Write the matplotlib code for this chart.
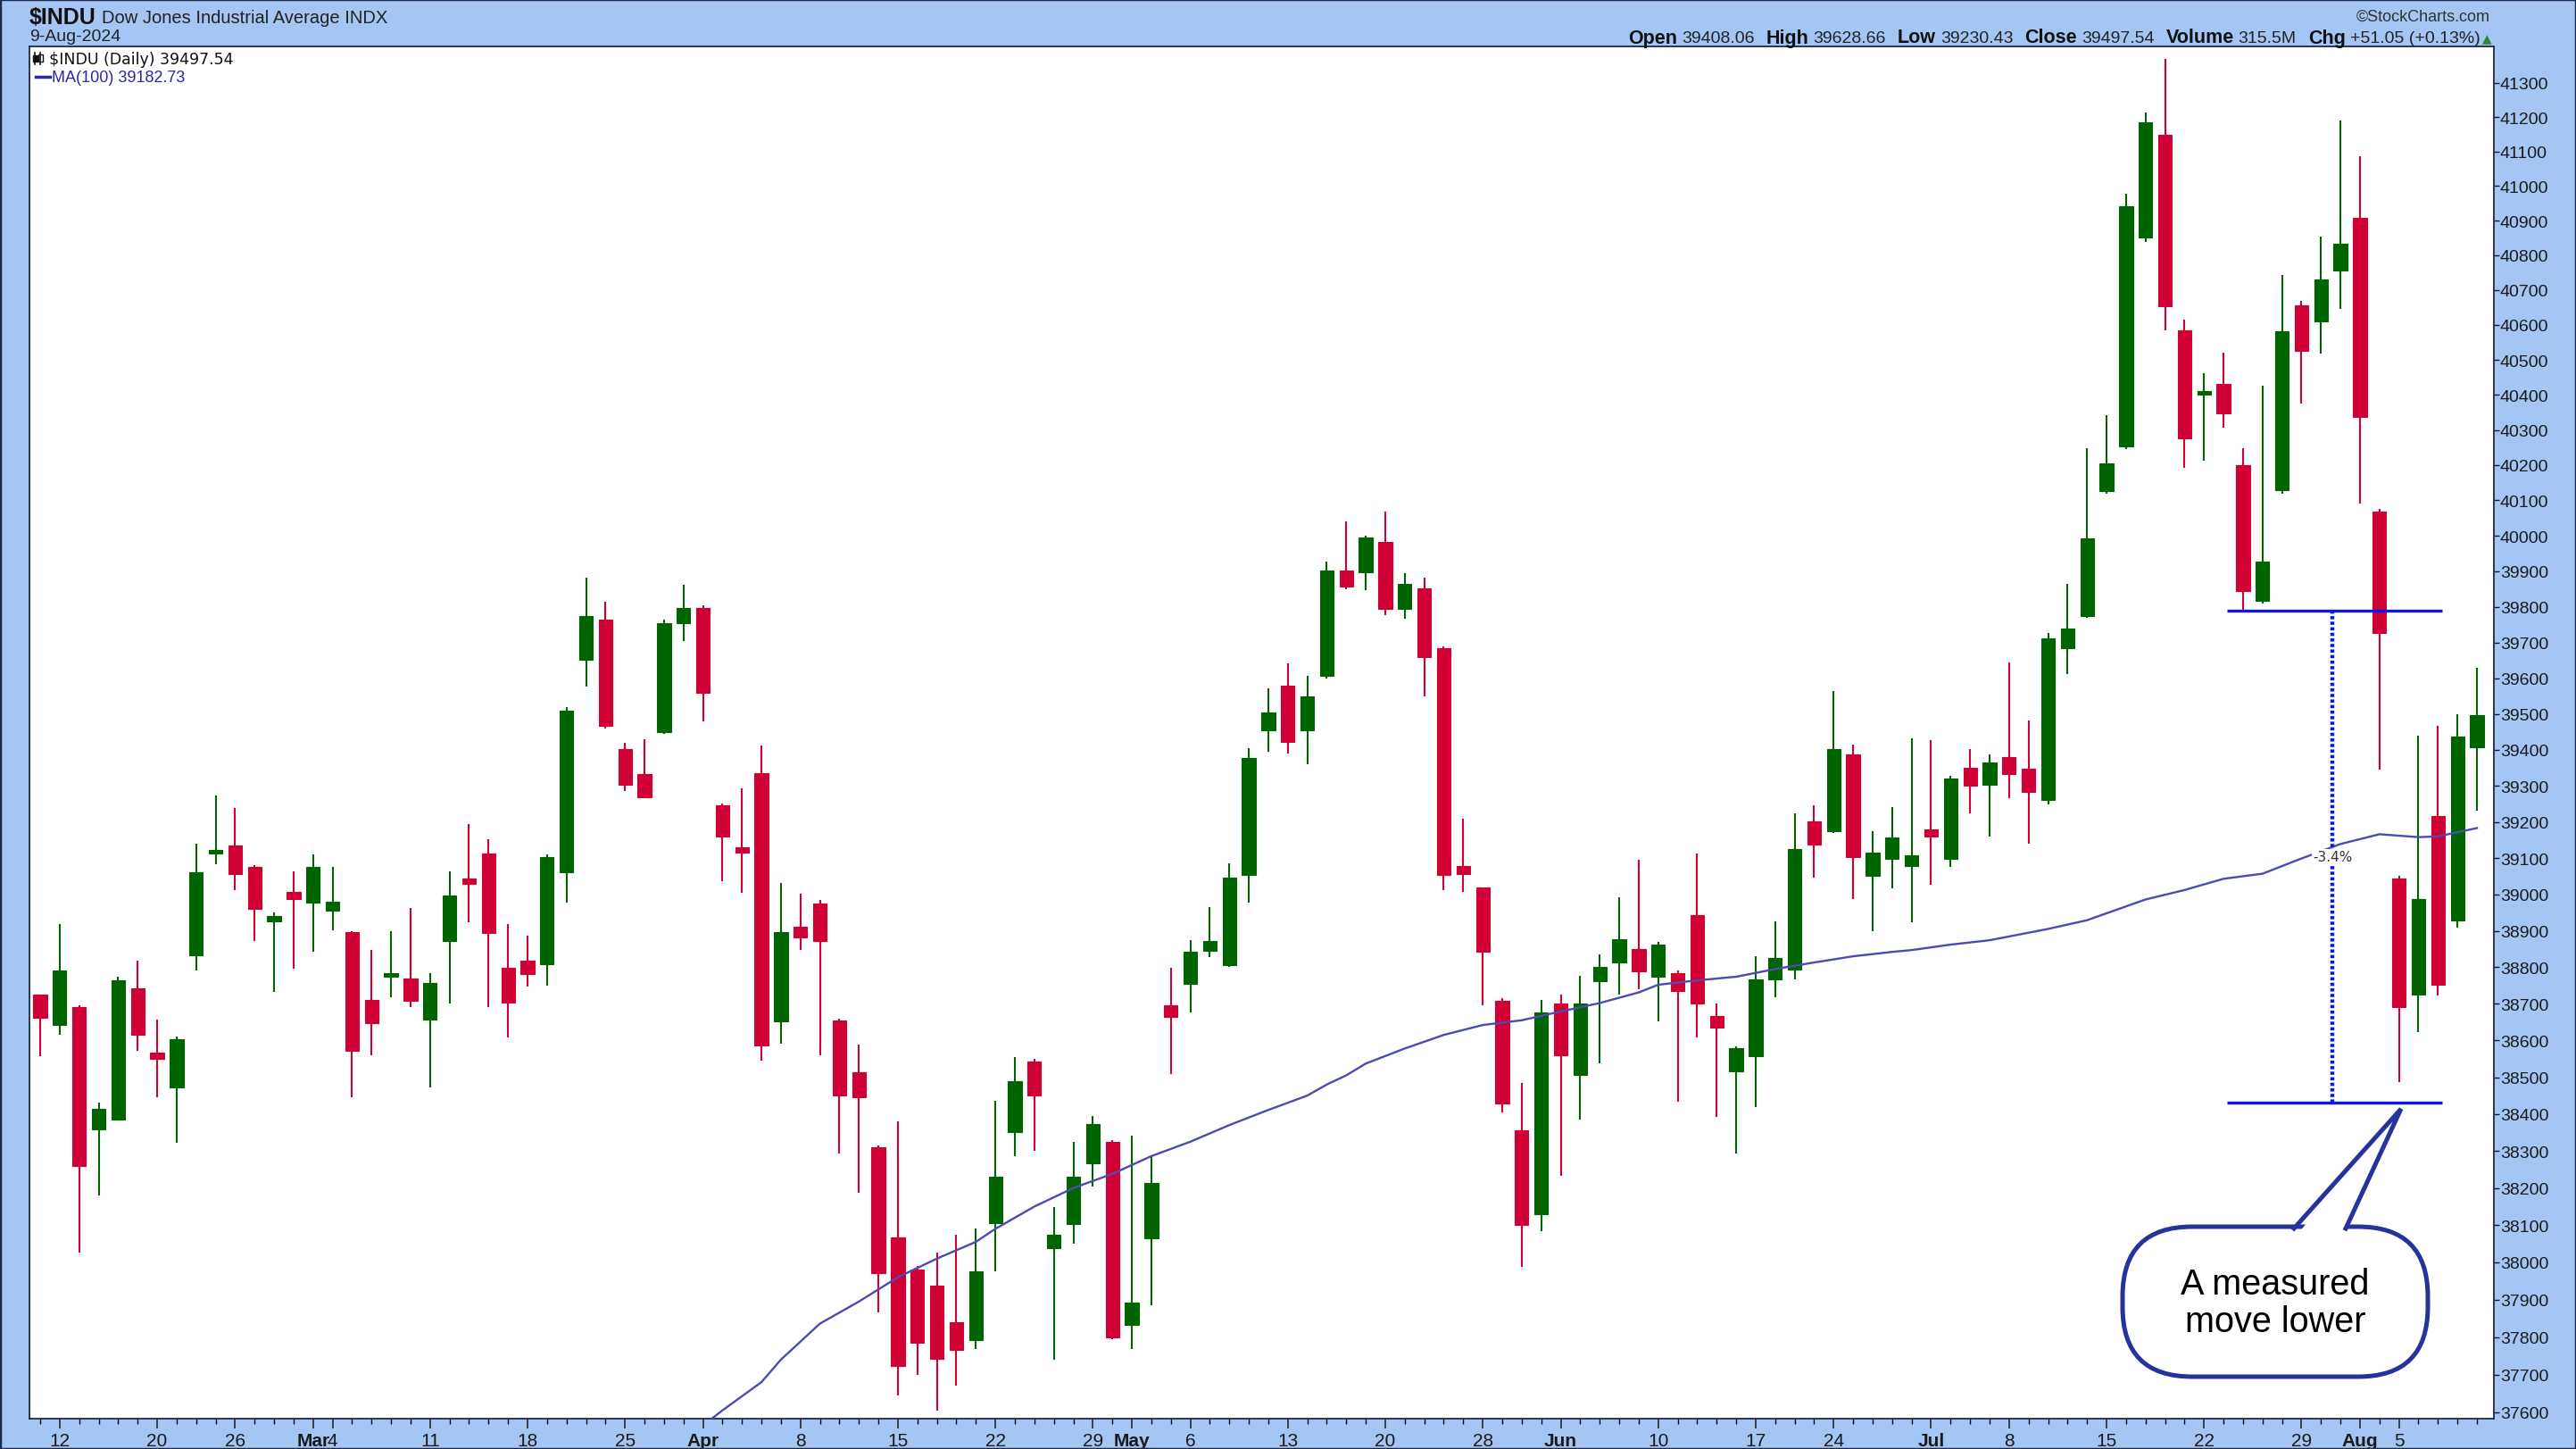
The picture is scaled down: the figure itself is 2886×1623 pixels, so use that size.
import matplotlib
matplotlib.use("Agg")
import matplotlib.pyplot as plt
import numpy as np
import pandas as pd
from matplotlib.patches import FancyBboxPatch, Polygon, Rectangle
from matplotlib.ticker import NullLocator

# trading calendar (NYSE holidays removed)
holidays = ["2024-02-19", "2024-03-29", "2024-05-27", "2024-06-19", "2024-07-04"]
trade_days = pd.bdate_range("2024-02-09", "2024-08-09").drop(pd.to_datetime(holidays))

opens = [
    38724, 38643, 38690, 38358, 38385, 38742, 38568, 38471, 38832, 39112, 39136, 39077, 38927, 39006,
    38977, 38956, 38896, 38711, 38773, 38768, 38656, 38871, 39045, 39112, 38798, 38818, 38809, 39062, 39652, 39765, 39403, 39332, 39449, 39753,
    39797, 39245, 39131, 39335, 38651, 38911, 38976, 38654, 38514, 38310, 38066, 37980, 37937, 37840, 37793, 38106, 38350, 38543, 38039, 38104, 38267, 38324,
    37832, 38064, 38697, 38754, 38845, 38805, 39053, 39454, 39580, 39454, 39607, 39902, 39897, 39982, 39793, 39853, 39683, 39079, 39018, 38708, 38357, 38129,
    38702, 38507, 38761, 38813, 38850, 38775, 38785, 38942, 38666, 38517, 38557, 38767, 38793, 39201, 39174, 39387, 39052, 39097, 39079,
    39180, 39097, 39349, 39303, 39381, 39348, 39262, 39684, 39774, 40126, 40253, 40850, 41149, 40585, 40400, 40432, 40201, 39816, 40128, 40656, 40610, 40757,
    40907, 40068, 39043, 38726, 39217, 38929, 39408.06]
highs = [
    38724, 38918, 38695, 38430, 38773, 38818, 38656, 38611, 39139, 39273, 39238, 39080, 38950, 39063,
    39111, 39077, 38900, 38847, 38899, 38963, 38785, 39063, 39193, 39152, 38918, 38886, 39111, 39518, 39881, 39814, 39420, 39430, 39764, 39861,
    39805, 39250, 39294, 39411, 39032, 39003, 38985, 38660, 38588, 38315, 38379, 37990, 38026, 38074, 38091, 38435, 38554, 38550, 38148, 38324, 38394, 38330,
    38341, 38287, 38799, 38875, 38966, 39086, 39405, 39571, 39641, 39607, 39926, 40041, 40000, 40068, 39894, 39881, 39690, 39208, 39020, 38715, 38484, 38710,
    38724, 38777, 38835, 38992, 39095, 38870, 38790, 39112, 38702, 38585, 38830, 38927, 39224, 39246, 39564, 39415, 39175, 39242, 39433,
    39428, 39329, 39402, 39387, 39643, 39482, 39726, 39865, 40247, 40342, 40978, 41213, 41370, 40616, 40462, 40521, 40247, 40426, 40744, 40670, 40854, 41191,
    41085, 40075, 39050, 39440, 39467, 39498, 39628.66]
lows = [
    38556, 38615, 38026, 38181, 38385, 38572, 38446, 38323, 38790, 39083, 39013, 38871, 38732, 38796,
    38842, 38902, 38446, 38559, 38717, 38691, 38472, 38700, 38923, 38691, 38608, 38748, 38750, 38977, 39577, 39460, 39286, 39265, 39445, 39703,
    39479, 39037, 39005, 38546, 38591, 38847, 38559, 38294, 38187, 37867, 37644, 37699, 37604, 37670, 37769, 37975, 38286, 38300, 37740, 38051, 38205, 37795,
    37768, 37885, 38508, 38677, 38829, 38800, 38978, 39395, 39391, 39361, 39600, 39850, 39847, 39776, 39766, 39548, 39013, 39008, 38697, 38404, 37987, 38084,
    38232, 38384, 38537, 38726, 38740, 38652, 38433, 38607, 38393, 38294, 38419, 38717, 38767, 39046, 39170, 38987, 38898, 39016, 38923,
    39026, 39076, 39223, 39160, 39266, 39139, 39248, 39612, 39770, 40120, 40245, 40839, 40585, 40192, 40212, 40306, 39788, 39808, 40120, 40374, 40517, 40647,
    40090, 39344, 38486, 38624, 38722, 38909, 39230.43]
closes = [
    38661, 38790, 38259, 38414, 38764, 38615, 38551, 38603, 39060, 39122, 39057, 38961, 38940, 38987,
    39077, 38979, 38572, 38648, 38783, 38708, 38758, 38998, 39029, 38894, 38704, 38781, 39104, 39508, 39775, 39467, 39302, 39269, 39753, 39797,
    39558, 39160, 39114, 38586, 38896, 38881, 38871, 38451, 38446, 37970, 37722, 37785, 37742, 37765, 37975, 38230, 38490, 38450, 38075, 38230, 38373, 37800,
    37893, 38213, 38665, 38842, 38872, 39046, 39378, 39504, 39422, 39549, 39901, 39857, 39995, 39793, 39864, 39659, 39053, 39057, 38842, 38428, 38100, 38676,
    38560, 38702, 38800, 38878, 38788, 38862, 38736, 38701, 38636, 38580, 38767, 38825, 39126, 39138, 39402, 39102, 39115, 39156, 39109,
    39160, 39321, 39300, 39365, 39333, 39282, 39711, 39740, 39992, 40206, 40941, 41185, 40654, 40275, 40410, 40348, 39844, 39927, 40581, 40525, 40730, 40833,
    40336, 39726, 38691, 38986, 38753, 39436, 39497.54]

# MA(100)
ma_days = ["2024-04-01", "2024-04-02", "2024-04-04", "2024-04-05", "2024-04-09", "2024-04-11", "2024-04-15",
           "2024-04-17", "2024-04-19", "2024-04-22", "2024-04-24", "2024-04-26", "2024-04-30", "2024-05-02",
           "2024-05-06", "2024-05-08", "2024-05-10", "2024-05-14", "2024-05-15", "2024-05-16", "2024-05-17",
           "2024-05-21", "2024-05-23", "2024-05-28", "2024-05-30", "2024-06-03", "2024-06-05", "2024-06-07",
           "2024-06-10", "2024-06-12", "2024-06-14", "2024-06-18", "2024-06-21", "2024-06-25", "2024-06-27",
           "2024-06-28", "2024-07-02", "2024-07-05", "2024-07-10", "2024-07-12", "2024-07-17", "2024-07-19",
           "2024-07-23", "2024-07-25", "2024-07-29", "2024-07-31", "2024-08-02", "2024-08-06", "2024-08-07",
           "2024-08-09"]
ma_values = [37565, 37605, 37680, 37740, 37836, 37895, 37960, 38010, 38055, 38090, 38150, 38200, 38238, 38286,
             38325, 38370, 38411, 38450, 38480, 38505, 38537, 38578, 38615, 38642, 38655, 38679, 38702, 38731,
             38752, 38764, 38774, 38795, 38813, 38830, 38842, 38847, 38862, 38874, 38905, 38929, 38986, 39012,
             39043, 39057, 39099, 39139, 39166, 39158, 39160, 39183]

# x axis labels
day_ticks = ["2024-02-12", "2024-02-20", "2024-02-26", "2024-03-04", "2024-03-11", "2024-03-18", "2024-03-25",
             "2024-04-08", "2024-04-15", "2024-04-22", "2024-04-29", "2024-05-06", "2024-05-13", "2024-05-20",
             "2024-05-28", "2024-06-10", "2024-06-17", "2024-06-24", "2024-07-08", "2024-07-15", "2024-07-22",
             "2024-07-29", "2024-08-05"]
day_labels = ["12", "20", "26", "4", "11", "18", "25", "8", "15", "22", "29", "6", "13", "20", "28",
              "10", "17", "24", "8", "15", "22", "29", "5"]
month_ticks = ["2024-03-01", "2024-04-01", "2024-05-01", "2024-06-03", "2024-07-01", "2024-08-01"]
month_labels = ["Mar", "Apr", "May", "Jun", "Jul", "Aug"]
y_ticks = list(range(37600, 41400, 100))

# measured move annotation
move_top = 39790
move_bottom = 38430
move_pct = "-3.4%"

BG = "#a4c6f4"
RED = "#d10034"
GREEN = "#006400"
MA_COLOR = "#4b4bb0"
LINE_BLUE = "#0a14f0"
BUBBLE = "#27339d"
NARROW = ["Liberation Sans Narrow", "Liberation Sans", "DejaVu Sans"]
ARIAL = ["Liberation Sans", "DejaVu Sans"]

W, H = 2886, 1624
fig = plt.figure(figsize=(W / 100, H / 100), dpi=100, facecolor=BG)
ax = fig.add_axes([33 / W, 1 - 1590 / H, (2794 - 33) / W, (1590 - 53) / H])
ax.set_facecolor("white")

day_pos = {d.strftime("%Y-%m-%d"): i for i, d in enumerate(trade_days)}
x = np.arange(len(trade_days))
o = np.array(opens, dtype=float)
h = np.array(highs, dtype=float)
l = np.array(lows, dtype=float)
c = np.array(closes, dtype=float)
cols = np.where(c >= o, GREEN, RED)

ax.set_yscale("log")
ax.vlines(x, l, h, colors=cols, lw=1.5, zorder=2)
ax.bar(x, np.abs(c - o), bottom=np.minimum(o, c), width=0.7, color=cols,
       edgecolor=cols, lw=0.8, zorder=3)

ma_x = [day_pos[d] for d in ma_days]
ax.plot(ma_x, ma_values, color=MA_COLOR, lw=1.7, zorder=4)

# measured move lines
x_start = day_pos["2024-07-23"] + 0.2
x_end = day_pos["2024-08-07"] + 0.2
x_mid = day_pos["2024-07-30"] + 0.6
ax.hlines([move_top, move_bottom], x_start, x_end, colors=LINE_BLUE, lw=2.4, zorder=5)
ax.vlines(x_mid, move_bottom, move_top, colors=LINE_BLUE, lw=3.2, linestyles=(0, (0.8, 0.6)), zorder=5)
ax.text(x_mid, 39104, move_pct, ha="center", va="center", fontsize=11, color="#333333",
        family="DejaVu Sans", zorder=6, bbox=dict(facecolor="white", edgecolor="none", pad=0.5))

ax.set_xlim(-0.55, 125.87)
ax.set_ylim(37583, 41406)

ax.yaxis.tick_right()
ax.set_yticks(y_ticks)
ax.set_yticklabels([str(v) for v in y_ticks])
ax.yaxis.set_minor_locator(NullLocator())
ax.tick_params(axis="y", which="major", length=4, width=1, pad=1, labelsize=14, colors="#1a1a1a")

tick_dates = day_ticks + month_ticks
tick_names = day_labels + month_labels
ax.set_xticks([day_pos[d] for d in tick_dates])
ax.set_xticklabels(tick_names)
ax.set_xticks(x, minor=True)
ax.tick_params(axis="x", which="major", length=8, width=1.1, pad=3, labelsize=15, colors="#1a1a1a")
ax.tick_params(axis="x", which="minor", length=4, width=1)
for lbl in ax.get_xticklabels():
    lbl.set_family(NARROW)
    if lbl.get_text() in month_labels:
        lbl.set_fontweight("bold")
for lbl in ax.get_yticklabels():
    lbl.set_family(ARIAL)
for sp in ax.spines.values():
    sp.set_color("#1b2a4a")
    sp.set_linewidth(1.3)

# overlay in pixel coordinates for header, legend and callout
ov = fig.add_axes([0, 0, 1, 1], zorder=10)
ov.set_xlim(0, W)
ov.set_ylim(H, 0)
ov.axis("off")
fig.patches.append(Rectangle((0, 0), 1, 1, transform=fig.transFigure, fill=False,
                             edgecolor="#1b2a4a", lw=2.5))

renderer = fig.canvas.get_renderer()


def put_runs(runs, xpos, ypos, align="left"):
    items = []
    for s, gap, kw in runs:
        t = ov.text(xpos, ypos, s, va="center", ha="left", **kw)
        items.append((t, gap))
    widths = [t.get_window_extent(renderer).width for t, _ in items]
    total = sum(widths) + sum(g for _, g in items[:-1])
    start = xpos if align == "left" else xpos - total
    for (t, gap), w in zip(items, widths):
        t.set_x(start)
        start += w + gap


bold = dict(family=NARROW, fontweight="bold", fontsize=15.5, color="#111111")
reg = dict(family=NARROW, fontsize=14, color="#222222")
put_runs([("$INDU", 6, dict(family=NARROW, fontweight="bold", fontsize=18, color="#111111")),
          ("Dow Jones Industrial Average INDX", 0, dict(family=NARROW, fontsize=14.5, color="#222222"))],
         33, 20)
ov.text(33, 42, "9-Aug-2024", family=NARROW, fontsize=14, color="#222222", va="center")
ov.text(2790, 19, "\u00a9StockCharts.com", family=NARROW, fontsize=13, color="#333333", va="center", ha="right")
put_runs([("Open", 5, bold), ("39408.06", 13, reg), ("High", 5, bold), ("39628.66", 13, reg),
          ("Low", 5, bold), ("39230.43", 13, reg), ("Close", 5, bold), ("39497.54", 13, reg),
          ("Volume", 5, bold), ("315.5M", 13, reg), ("Chg", 5, bold), ("+51.05 (+0.13%)", 3, reg),
          ("\u25b2", 0, dict(family=["DejaVu Sans"], fontsize=10, color="#2a8a2a"))],
         2792, 43, align="right")

# legend inside the plot
ov.plot([39, 39], [60, 73], color="#111111", lw=1.2)
ov.add_patch(Rectangle((36.5, 63), 5, 7, color="#111111"))
ov.plot([45, 45], [60, 73], color="#111111", lw=1.2)
ov.add_patch(Rectangle((42.5, 62), 5, 8, facecolor="white", edgecolor="#111111", lw=1))
ov.text(55, 67, "$INDU (Daily) 39497.54", family="DejaVu Sans", fontsize=12.5, color="#111111", va="center")
ov.plot([40, 56], [87, 87], color="#2a2aa0", lw=2.5)
ov.text(58, 87, "MA(100) 39182.73", family=NARROW, fontsize=13, color="#2a2aa0", va="center")

# speech bubble callout
bx, by, bw, bh = 2378, 1375, 342, 168
ov.add_patch(FancyBboxPatch((bx, by), bw, bh, boxstyle="round,pad=0,rounding_size=78",
                            facecolor="white", edgecolor=BUBBLE, lw=3.6))
ov.add_patch(Polygon([(2575, 1382), (2690, 1248), (2623, 1382)], closed=True,
                     facecolor="white", edgecolor="none", zorder=3))
ov.plot([2570, 2690, 2628], [1377, 1243, 1377], color=BUBBLE, lw=3.6, solid_joinstyle="miter", zorder=4)
ov.text(2549, 1460, "A measured\nmove lower", ha="center", va="center", family=ARIAL,
        fontsize=28.5, color="black", linespacing=1.15, zorder=5)

fig.savefig("out.png", dpi=100, facecolor=BG)
